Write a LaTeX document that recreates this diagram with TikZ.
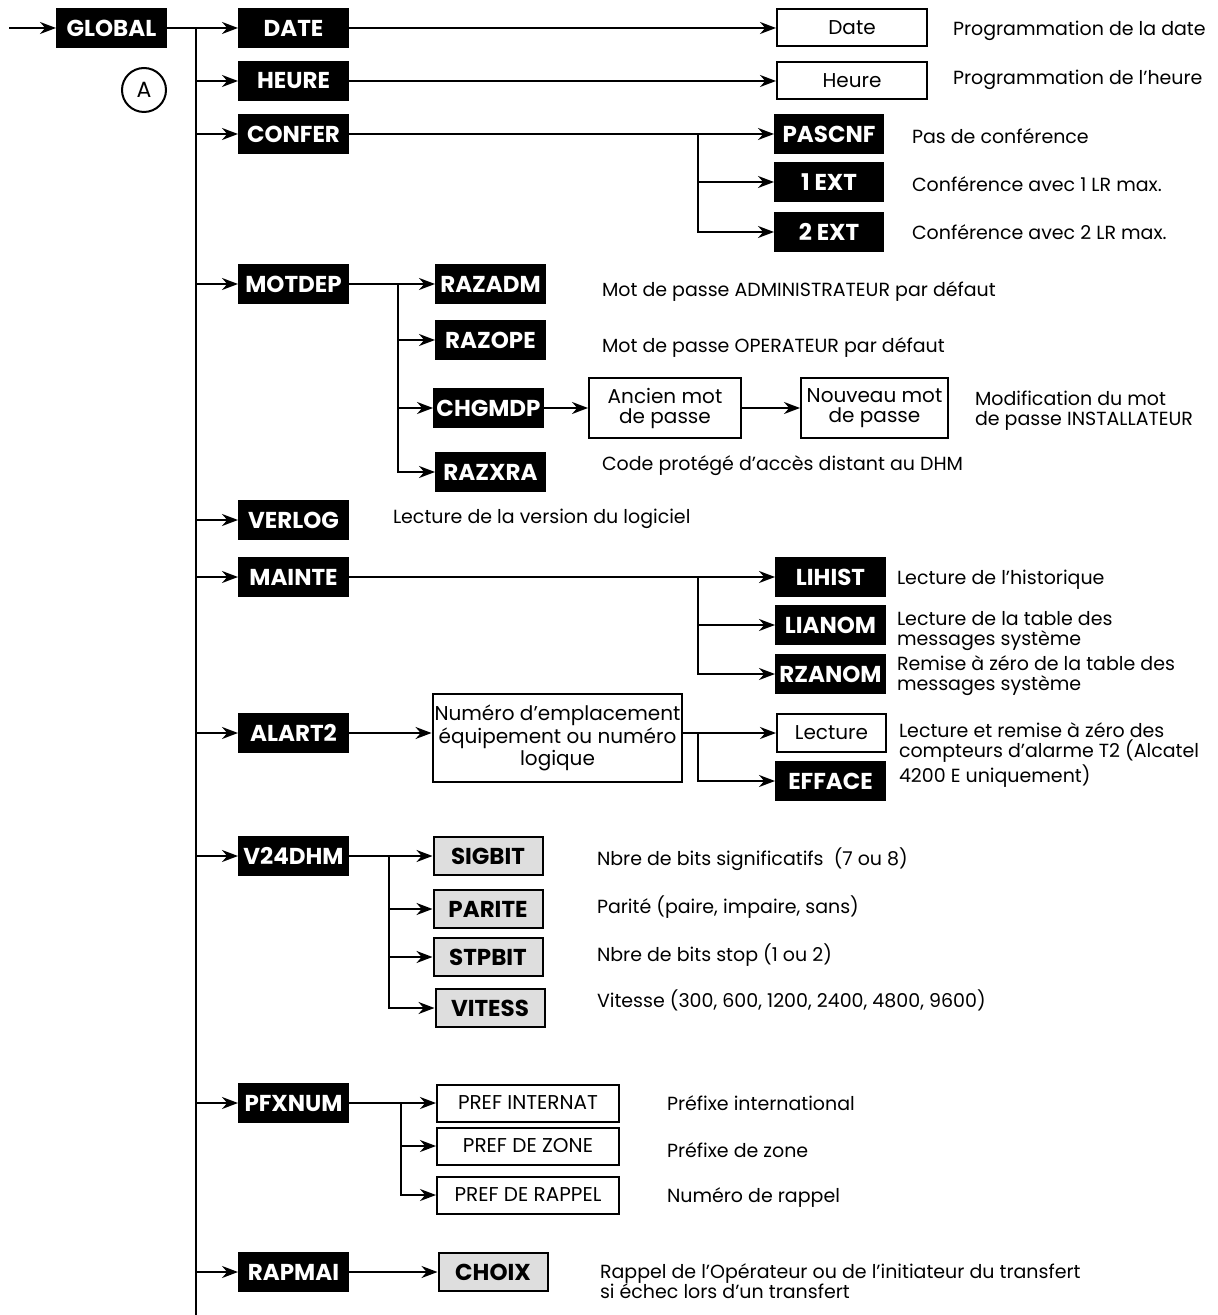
\documentclass[tikz,border=0pt]{standalone}
\usepackage{fontspec}
\setmainfont{Poppins}
\usetikzlibrary{arrows.meta}

\begin{document}
\begin{tikzpicture}[x=0.5pt, y=-0.5pt, line width=1pt, >={Stealth[length=8pt, width=6pt]},
    key/.style={fill=black, draw=black, text=white, font=\bfseries\fontsize{11.5}{12}\selectfont,
      minimum width=54.5pt, minimum height=19pt, inner sep=0pt},
    greykey/.style={key, fill=black!13, text=black},
    valbox/.style={draw, fill=white, font=\fontsize{10}{10}\selectfont, align=center,
      minimum height=18.5pt, inner sep=1pt},
    desc/.style={anchor=west, inner sep=0pt, align=left, font=\fontsize{9.5}{10}\selectfont}]
  \useasboundingbox (0,0) rectangle (1217,1315);

  % first level
  \node[key] (global) at (111.5, 28) {GLOBAL};
  \node[key] (date) at (293.5, 28) {DATE};
  \node[key] (heure) at (293.5, 81) {HEURE};
  \node[key] (confer) at (293.5, 134) {CONFER};
  \node[key] (motdep) at (293.5, 284) {MOTDEP};
  \node[key] (verlog) at (293.5, 520) {VERLOG};
  \node[key] (mainte) at (293.5, 577) {MAINTE};
  \node[key] (alart2) at (293.5, 733) {ALART2};
  \node[key] (v24dhm) at (293.5, 856) {V24DHM};
  \node[key] (pfxnum) at (293.5, 1103) {PFXNUM};
  \node[key] (rapmai) at (293.5, 1272) {RAPMAI};
  \node[circle, draw, minimum size=22pt, inner sep=0pt, font=\fontsize{11}{11}\selectfont] (marka) at (144, 90) {A};

  % second level
  \node[valbox, minimum width=75pt] (dateval) at (852, 28) {Date};
  \node[valbox, minimum width=75pt] (heureval) at (852, 81) {Heure};
  \node[key, minimum width=54pt] (pascnf) at (829, 134) {PASCNF};
  \node[key, minimum width=54pt] (ext1) at (829, 182) {1 EXT};
  \node[key, minimum width=54pt] (ext2) at (829, 232) {2 EXT};
  \node[key] (razadm) at (490.5, 284) {RAZADM};
  \node[key] (razope) at (490.5, 340) {RAZOPE};
  \node[key] (chgmdp) at (488.5, 408) {CHGMDP};
  \node[valbox, minimum width=76pt, minimum height=30pt] (ancien) at (665, 408) {Ancien mot\\de passe};
  \node[valbox, minimum width=73.5pt, minimum height=30pt] (nouveau) at (874.5, 408) {Nouveau mot\\de passe};
  \node[key] (razxra) at (490.5, 472) {RAZXRA};
  \node[key] (lihist) at (830.5, 577) {LIHIST};
  \node[key] (lianom) at (830.5, 625) {LIANOM};
  \node[key] (rzanom) at (830.5, 674) {RZANOM};
  \node[valbox, minimum width=120.5pt, minimum height=44pt] (numero) at (557.5, 738) {Numéro d'emplacement\\équipement ou numéro\\logique};
  \node[valbox, minimum width=54.5pt, minimum height=19pt] (lecture) at (831.5, 733) {Lecture};
  \node[key] (efface) at (830.5, 781) {EFFACE};
  \node[greykey] (sigbit) at (488, 856) {SIGBIT};
  \node[greykey] (parite) at (488, 909) {PARITE};
  \node[greykey] (stpbit) at (488, 957) {STPBIT};
  \node[greykey] (vitess) at (490, 1008) {VITESS};
  \node[valbox, minimum width=91pt] (prefint) at (528, 1103) {PREF INTERNAT};
  \node[valbox, minimum width=91pt] (prefzone) at (528, 1146) {PREF DE ZONE};
  \node[valbox, minimum width=91pt] (prefrap) at (528, 1195) {PREF DE RAPPEL};
  \node[greykey] (choix) at (493, 1272) {CHOIX};

  % descriptions
  \node[desc] (ddate) at (952, 31) {Programmation de la date};
  \node[desc] (dheure) at (952, 80) {Programmation de l'heure};
  \node[desc] (dpascnf) at (911, 136) {Pas de conférence};
  \node[desc] (dext1) at (911, 184) {Conférence avec 1 LR max.};
  \node[desc] (dext2) at (911, 232) {Conférence avec 2 LR max.};
  \node[desc] (drazadm) at (601, 292) {Mot de passe ADMINISTRATEUR par défaut};
  \node[desc] (drazope) at (601, 348) {Mot de passe OPERATEUR par défaut};
  \node[desc] (dchgmdp) at (974, 411) {Modification du mot\\de passe INSTALLATEUR};
  \node[desc] (drazxra) at (601, 466) {Code protégé d'accès distant au DHM};
  \node[desc] (dverlog) at (392, 519) {Lecture de la version du logiciel};
  \node[desc] (dlihist) at (896, 580) {Lecture de l'historique};
  \node[desc] (dlianom) at (896, 631) {Lecture de la table des\\messages système};
  \node[desc] (drzanom) at (896, 676) {Remise à zéro de la table des\\messages système};
  \node[desc] (dalart2) at (898, 755) {Lecture et remise à zéro des\\compteurs d'alarme T2 (Alcatel\\4200 E uniquement)};
  \node[desc] (dsigbit) at (596, 859) {Nbre de bits significatifs~~(7 ou 8)};
  \node[desc] (dparite) at (596, 907) {Parité (paire, impaire, sans)};
  \node[desc] (dstpbit) at (596, 955) {Nbre de bits stop (1 ou 2)};
  \node[desc] (dvitess) at (596, 1000) {Vitesse (300, 600, 1200, 2400, 4800, 9600)};
  \node[desc] (dprefint) at (666, 1103) {Préfixe international};
  \node[desc] (dprefzone) at (666, 1150) {Préfixe de zone};
  \node[desc] (dprefrap) at (666, 1198) {Numéro de rappel};
  \node[desc] (dchoix) at (599, 1281) {Rappel de l'Opérateur ou de l'initiateur du transfert\\si échec lors d'un transfert};

  % main bus
  \coordinate (in) at (9, 28);
  \coordinate (bustop) at (196, 28);
  \coordinate (busend) at (196, 1315);
  \draw[->] (in) -- (global);
  \draw[->] (global) -- (date);
  \draw (bustop) -- (busend);
  \foreach \n in {heure, confer, motdep, verlog, mainte, alart2, v24dhm, pfxnum, rapmai}
    \draw[->] (bustop |- \n.west) -- (\n.west);

  % sub buses
  \draw[->] (date) -- (dateval);
  \draw[->] (heure) -- (heureval);
  \draw[->] (confer) -- (pascnf);
  \coordinate (confbus) at (698, 134);
  \foreach \n in {ext1, ext2}
    \draw[->] (confbus) |- (\n.west);
  \draw[->] (motdep) -- (razadm);
  \coordinate (mdpbus) at (398, 284);
  \foreach \n in {razope, chgmdp, razxra}
    \draw[->] (mdpbus) |- (\n.west);
  \draw[->] (chgmdp) -- (ancien);
  \draw[->] (ancien) -- (nouveau);
  \draw[->] (mainte) -- (lihist);
  \coordinate (maintbus) at (698, 577);
  \foreach \n in {lianom, rzanom}
    \draw[->] (maintbus) |- (\n.west);
  \draw[->] (alart2.east) -- (alart2.east -| numero.west);
  \coordinate (alarbus) at (698, 733);
  \draw[->] (numero.east |- lecture) -- (lecture.west);
  \draw[->] (alarbus) |- (efface.west);
  \draw[->] (v24dhm) -- (sigbit);
  \coordinate (vbus) at (389, 856);
  \foreach \n in {parite, stpbit, vitess}
    \draw[->] (vbus) |- (\n.west);
  \draw[->] (pfxnum) -- (prefint);
  \coordinate (pfxbus) at (401, 1103);
  \foreach \n in {prefzone, prefrap}
    \draw[->] (pfxbus) |- (\n.west);
  \draw[->] (rapmai) -- (choix);
\end{tikzpicture}
\end{document}
